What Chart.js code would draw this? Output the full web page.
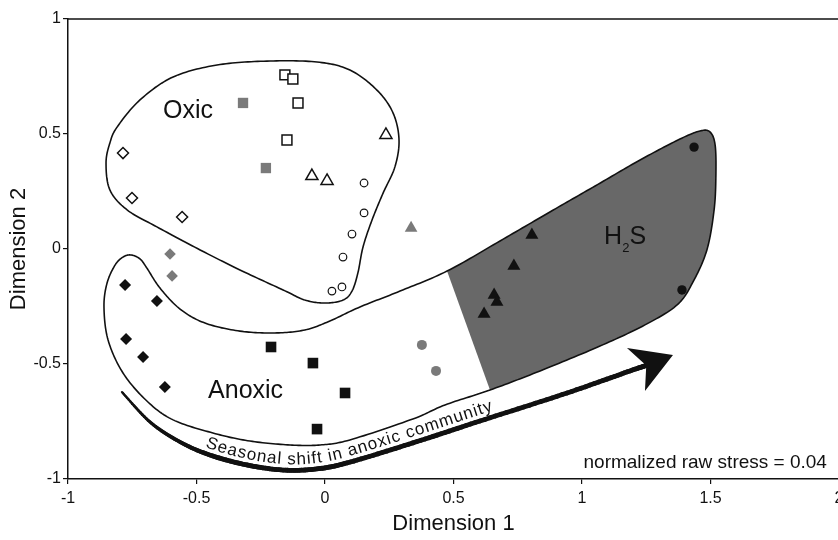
<!DOCTYPE html>
<html>
<head>
<meta charset="utf-8">
<script src="https://cdn.jsdelivr.net/npm/chart.js@4/dist/chart.umd.min.js"></script>
<style>
html, body { margin: 0; padding: 0; background: #fff; overflow: hidden; }
#wrap { width: 860px; height: 540px; }
</style>
</head>
<body>
<div id="wrap"><canvas id="chart" width="860" height="540"></canvas></div>
<script>
// sample scores, [dimension 1, dimension 2]
const oxicOpenSquares = [[-0.156, 0.757], [-0.125, 0.739], [-0.105, 0.635], [-0.148, 0.474]];
const oxicGraySquares = [[-0.319, 0.635], [-0.230, 0.352]];
const oxicOpenTriangles = [[-0.051, 0.317], [0.008, 0.296], [0.237, 0.496]];
const oxicOpenCircles = [[0.152, 0.287], [0.152, 0.157], [0.105, 0.065], [0.070, -0.035], [0.027, -0.183], [0.066, -0.165]];
const oxicOpenDiamonds = [[-0.786, 0.417], [-0.751, 0.222], [-0.556, 0.139]];
const grayDiamonds = [[-0.603, -0.022], [-0.595, -0.117]];
const grayTriangles = [[0.335, 0.091]];
const anoxicDiamonds = [[-0.778, -0.157], [-0.654, -0.226], [-0.774, -0.391], [-0.708, -0.470], [-0.623, -0.600]];
const anoxicSquares = [[-0.210, -0.426], [-0.047, -0.496], [0.078, -0.626], [-0.031, -0.783]];
const anoxicGrayCircles = [[0.377, -0.417], [0.432, -0.530]];
const sulfideTriangles = [[0.805, 0.061], [0.735, -0.074], [0.658, -0.200], [0.669, -0.230], [0.619, -0.283]];
const sulfideCircles = [[1.436, 0.443], [1.389, -0.178]];

const xTickLabels = ['-1', '-0.5', '0', '0.5', '1', '1.5', '2'];
const yTickLabels = ['-1', '-0.5', '0', '0.5', '1'];
const stressLabel = 'normalized raw stress = 0.04';
const shiftLabel = 'Seasonal shift in anoxic community';

// hand drawn group outlines (in axis units)
const oxicOutline = [[-0.852, 0.374], [-0.837, 0.461], [-0.809, 0.530], [-0.720, 0.648], [-0.591, 0.748], [-0.420, 0.800],
  [-0.226, 0.817], [-0.031, 0.813], [0.097, 0.778], [0.202, 0.691], [0.265, 0.591], [0.288, 0.474], [0.272, 0.357],
  [0.226, 0.243], [0.183, 0.126], [0.148, 0.009], [0.128, -0.104], [0.105, -0.183], [0.070, -0.222], [0.000, -0.235],
  [-0.078, -0.222], [-0.163, -0.178], [-0.331, -0.091], [-0.486, -0.004], [-0.654, 0.096], [-0.770, 0.170], [-0.837, 0.257]];
const anoxicOutline = [[-0.755, -0.026], [-0.720, -0.043], [-0.693, -0.083], [-0.642, -0.170], [-0.564, -0.261], [-0.467, -0.322],
  [-0.331, -0.357], [-0.195, -0.365], [-0.078, -0.352], [0.019, -0.313], [0.136, -0.252], [0.292, -0.183], [0.475, -0.096],
  [0.681, 0.035], [0.875, 0.161], [1.051, 0.274], [1.226, 0.387], [1.381, 0.478], [1.459, 0.513], [1.498, 0.509],
  [1.518, 0.452], [1.521, 0.322], [1.514, 0.170], [1.486, -0.004], [1.432, -0.143], [1.370, -0.243], [1.245, -0.330],
  [1.070, -0.422], [0.837, -0.530], [0.642, -0.613], [0.467, -0.678], [0.342, -0.739], [0.097, -0.830], [-0.019, -0.852],
  [-0.136, -0.852], [-0.292, -0.835], [-0.436, -0.800], [-0.591, -0.743], [-0.693, -0.661], [-0.786, -0.539],
  [-0.844, -0.396], [-0.860, -0.252], [-0.848, -0.148], [-0.817, -0.070], [-0.786, -0.035]];
const sulfideEdge = [[0.475, -0.096], [0.642, -0.613]];
const arrowPath = [[-0.790, -0.622], [-0.681, -0.752], [-0.564, -0.839], [-0.447, -0.896], [-0.304, -0.939], [-0.163, -0.961],
  [-0.039, -0.957], [0.086, -0.930], [0.342, -0.843], [0.603, -0.748], [0.942, -0.626], [1.187, -0.530], [1.257, -0.504]];
const arrowHead = [[1.354, -0.461], [1.175, -0.430], [1.250, -0.506], [1.245, -0.617]];
const shiftSpan = [-0.467, 0.654];

function spline(pts, closed, steps) {
  const out = [];
  const n = pts.length;
  const get = i => closed ? pts[(i + n) % n] : pts[Math.max(0, Math.min(n - 1, i))];
  const segs = closed ? n : n - 1;
  for (let i = 0; i < segs; i++) {
    const p0 = get(i - 1), p1 = get(i), p2 = get(i + 1), p3 = get(i + 2);
    for (let s = 0; s < steps; s++) {
      const t = s / steps, t2 = t * t, t3 = t2 * t;
      const f = k => 0.5 * (2 * p1[k] + (p2[k] - p0[k]) * t + (2 * p0[k] - 5 * p1[k] + 4 * p2[k] - p3[k]) * t2 + (3 * p1[k] - p0[k] - 3 * p2[k] + p3[k]) * t3);
      out.push({x: f('x'), y: f('y')});
    }
  }
  if (!closed) out.push(get(n - 1));
  return out;
}

function textOnPath(ctx, pts, text, xStart, xEnd) {
  const cum = [0];
  for (let i = 1; i < pts.length; i++) cum.push(cum[i - 1] + Math.hypot(pts[i].x - pts[i - 1].x, pts[i].y - pts[i - 1].y));
  const at = s => {
    let i = 1;
    while (i < pts.length - 1 && cum[i] < s) i++;
    const t = (s - cum[i - 1]) / ((cum[i] - cum[i - 1]) || 1);
    return {x: pts[i - 1].x + (pts[i].x - pts[i - 1].x) * t, y: pts[i - 1].y + (pts[i].y - pts[i - 1].y) * t};
  };
  const sAtX = xv => {
    for (let i = 1; i < pts.length; i++) {
      if (pts[i].x >= xv) return cum[i - 1] + (xv - pts[i - 1].x) / (pts[i].x - pts[i - 1].x) * (cum[i] - cum[i - 1]);
    }
    return cum[cum.length - 1];
  };
  const s0 = sAtX(xStart), s1 = sAtX(xEnd);
  const chars = text.split('');
  const widths = chars.map(c => ctx.measureText(c).width);
  const total = widths.reduce((a, b) => a + b, 0);
  const gap = (s1 - s0 - total) / (chars.length - 1);
  let s = s0;
  chars.forEach((c, i) => {
    const w = widths[i];
    const m = at(s + w / 2), a = at(s - 2), b = at(s + w + 2);
    ctx.save();
    ctx.translate(m.x, m.y);
    ctx.rotate(Math.atan2(b.y - a.y, b.x - a.x));
    ctx.fillText(c, -w / 2, 0);
    ctx.restore();
    s += w + gap;
  });
}

const decor = {
  id: 'decor',
  beforeDatasetsDraw(chart) {
    const {ctx, chartArea, scales: {x, y}} = chart;
    const px = p => ({x: x.getPixelForValue(p[0]), y: y.getPixelForValue(p[1])});
    const trace = pts => { ctx.beginPath(); pts.forEach((p, i) => i ? ctx.lineTo(p.x, p.y) : ctx.moveTo(p.x, p.y)); };
    ctx.save();

    // top frame line
    ctx.strokeStyle = '#111';
    ctx.lineWidth = 1.5;
    ctx.beginPath();
    ctx.moveTo(chartArea.left, chartArea.top);
    ctx.lineTo(chartArea.right, chartArea.top);
    ctx.stroke();

    const oxic = spline(oxicOutline.map(px), true, 16);
    const anoxic = spline(anoxicOutline.map(px), true, 16);

    // H2S part of the anoxic group
    ctx.save();
    const a = px(sulfideEdge[0]), b = px(sulfideEdge[1]);
    const dx = b.x - a.x, dy = b.y - a.y;
    ctx.beginPath();
    ctx.moveTo(a.x - 3 * dx, a.y - 3 * dy);
    ctx.lineTo(b.x + 3 * dx, b.y + 3 * dy);
    ctx.lineTo(b.x + 3 * dx + 2000, b.y + 3 * dy);
    ctx.lineTo(a.x - 3 * dx + 2000, a.y - 3 * dy);
    ctx.closePath();
    ctx.clip();
    trace(anoxic);
    ctx.closePath();
    ctx.fillStyle = '#686868';
    ctx.fill();
    ctx.restore();

    ctx.lineWidth = 1.6;
    ctx.strokeStyle = '#111';
    trace(oxic); ctx.closePath(); ctx.stroke();
    trace(anoxic); ctx.closePath(); ctx.stroke();

    // seasonal arrow, a bit thinner where it starts
    const arrow = spline(arrowPath.map(px), false, 16);
    ctx.lineCap = 'round';
    let run = 0;
    for (let i = 1; i < arrow.length; i++) {
      run += Math.hypot(arrow[i].x - arrow[i - 1].x, arrow[i].y - arrow[i - 1].y);
      ctx.lineWidth = 2.2 + 2.6 * Math.min(1, run / 120);
      ctx.beginPath();
      ctx.moveTo(arrow[i - 1].x, arrow[i - 1].y);
      ctx.lineTo(arrow[i].x, arrow[i].y);
      ctx.stroke();
    }
    ctx.lineCap = 'butt';
    const head = arrowHead.map(px);
    trace(head);
    ctx.closePath();
    ctx.fillStyle = '#111';
    ctx.fill();

    // text above the arrow
    const lifted = arrow.map((p, i) => {
      const q = arrow[Math.min(i + 1, arrow.length - 1)], r = arrow[Math.max(i - 1, 0)];
      const tx = q.x - r.x, ty = q.y - r.y, len = Math.hypot(tx, ty) || 1;
      return {x: p.x + ty / len * 6, y: p.y - tx / len * 6};
    });
    ctx.font = '17px "Liberation Sans", Arial, sans-serif';
    ctx.textBaseline = 'alphabetic';
    textOnPath(ctx, lifted, shiftLabel, x.getPixelForValue(shiftSpan[0]), x.getPixelForValue(shiftSpan[1]));

    // group labels
    ctx.font = '25px "Liberation Sans", Arial, sans-serif';
    ctx.textAlign = 'left';
    let p = px([-0.630, 0.570]);
    ctx.fillText('Oxic', p.x, p.y);
    p = px([-0.455, -0.648]);
    ctx.fillText('Anoxic', p.x, p.y);
    p = px([1.086, 0.022]);
    ctx.fillText('H', p.x, p.y);
    let w = ctx.measureText('H').width;
    ctx.font = '13px "Liberation Sans", Arial, sans-serif';
    ctx.fillText('2', p.x + w, p.y + 8);
    w += ctx.measureText('2').width;
    ctx.font = '25px "Liberation Sans", Arial, sans-serif';
    ctx.fillText('S', p.x + w, p.y);

    ctx.font = '19px "Liberation Sans", Arial, sans-serif';
    ctx.textAlign = 'right';
    p = px([1.953, -0.952]);
    ctx.fillText(stressLabel, p.x, p.y);
    ctx.restore();
  }
};

const toXY = arr => arr.map(([x, y]) => ({x, y}));
const black = '#111';
const gray = '#7a7a7a';
const series = [
  {data: oxicOpenSquares, pointStyle: 'rect', r: 7, bg: '#fff', bc: black, bw: 1.5},
  {data: oxicGraySquares, pointStyle: 'rect', r: 7.3, bg: gray, bc: gray, bw: 0},
  {data: oxicOpenTriangles, pointStyle: 'triangle', r: 7, bg: '#fff', bc: black, bw: 1.5},
  {data: oxicOpenCircles, pointStyle: 'circle', r: 3.8, bg: '#fff', bc: black, bw: 1.2},
  {data: oxicOpenDiamonds, pointStyle: 'rectRot', r: 5.5, bg: '#fff', bc: black, bw: 1.5},
  {data: grayDiamonds, pointStyle: 'rectRot', r: 5.8, bg: gray, bc: gray, bw: 0},
  {data: grayTriangles, pointStyle: 'triangle', r: 7.3, bg: gray, bc: gray, bw: 0},
  {data: anoxicDiamonds, pointStyle: 'rectRot', r: 6, bg: black, bc: black, bw: 0},
  {data: anoxicSquares, pointStyle: 'rect', r: 7.5, bg: black, bc: black, bw: 0},
  {data: anoxicGrayCircles, pointStyle: 'circle', r: 5, bg: gray, bc: gray, bw: 0},
  {data: sulfideTriangles, pointStyle: 'triangle', r: 7.5, bg: black, bc: black, bw: 0},
  {data: sulfideCircles, pointStyle: 'circle', r: 4.7, bg: black, bc: black, bw: 0}
];

const tickFont = {family: '"Liberation Sans", Arial, sans-serif', size: 16};
const titleFont = {family: '"Liberation Sans", Arial, sans-serif', size: 22};

new Chart(document.getElementById('chart'), {
  type: 'scatter',
  data: {
    datasets: series.map(s => ({
      data: toXY(s.data),
      pointStyle: s.pointStyle,
      pointRadius: s.r,
      pointHoverRadius: s.r,
      backgroundColor: s.bg,
      borderColor: s.bc,
      borderWidth: s.bw
    }))
  },
  options: {
    responsive: false,
    animation: false,
    layout: {padding: {top: 19, right: 21, left: 0, bottom: 0}},
    plugins: {legend: {display: false}, tooltip: {enabled: false}},
    scales: {
      x: {
        type: 'linear', min: -1, max: 2,
        afterFit: s => { s.height = 61; },
        ticks: {stepSize: 0.5, padding: 5, color: '#111', font: tickFont,
          callback: v => xTickLabels[Math.round((v + 1) / 0.5)]},
        grid: {drawOnChartArea: false, drawTicks: true, tickLength: 5, color: '#111', lineWidth: 1.2},
        border: {display: true, color: '#111', width: 1.5},
        title: {display: true, text: 'Dimension 1', color: '#111', font: titleFont, padding: {top: 0, bottom: 3}}
      },
      y: {
        type: 'linear', min: -1, max: 1,
        afterFit: s => { s.width = 68; },
        ticks: {stepSize: 0.5, padding: 2, color: '#111', font: tickFont,
          callback: v => yTickLabels[Math.round((v + 1) / 0.5)]},
        grid: {drawOnChartArea: false, drawTicks: true, tickLength: 5, color: '#111', lineWidth: 1.2},
        border: {display: true, color: '#111', width: 1.5},
        title: {display: true, text: 'Dimension 2', color: '#111', font: titleFont, padding: {top: 6, bottom: 0}}
      }
    }
  },
  plugins: [decor]
});
</script>
</body>
</html>
